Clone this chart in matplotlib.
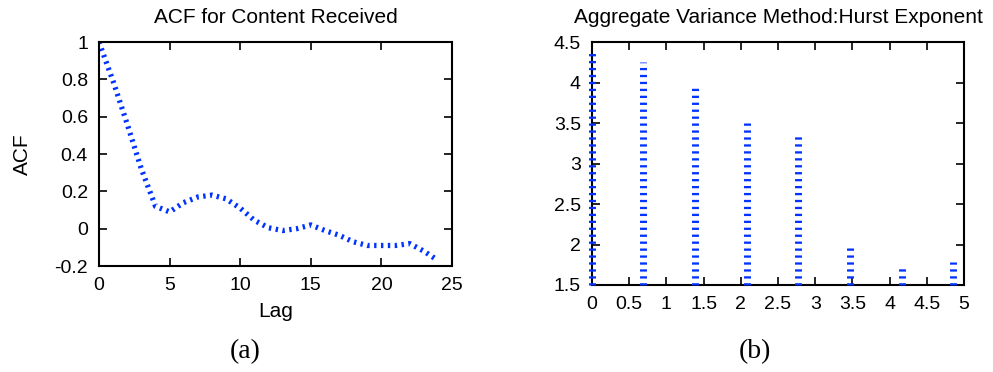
import numpy as np
import matplotlib.pyplot as plt

plt.rcParams['font.family'] = ['Liberation Sans', 'DejaVu Sans']

# ACF values
lags = list(range(25))
acf_vals = [1.0, 0.79, 0.56, 0.32, 0.12, 0.09, 0.14, 0.17, 0.18, 0.16, 0.11,
            0.045, 0.005, -0.01, 0.0, 0.02, -0.01, -0.035, -0.07, -0.09, -0.09,
            -0.09, -0.08, -0.12, -0.17]

# Aggregate variance impulses (x = log m)
agg_x = [0.0, 0.69, 1.39, 2.08, 2.77, 3.47, 4.16, 4.85]
agg_y = [4.42, 4.26, 3.93, 3.50, 3.35, 2.00, 1.71, 1.78]

blue = '#0033ff'

fig = plt.figure(figsize=(9.93, 3.72), dpi=100)

# Left panel
ax1 = fig.add_axes([0.0997, 0.2849, 0.3555, 0.602])
ax1.plot(lags, acf_vals, color=blue, linewidth=3.8, linestyle=(0, (0.45, 0.85)))
ax1.set_xlim(0, 25)
ax1.set_ylim(-0.2, 1.0)
ax1.set_xticks([0, 5, 10, 15, 20, 25])
ax1.set_yticks([-0.2, 0, 0.2, 0.4, 0.6, 0.8, 1])
ax1.set_yticklabels(['-0.2', '0', '0.2', '0.4', '0.6', '0.8', '1'])
ax1.set_xlabel('Lag', fontsize=15, labelpad=6)
ax1.set_ylabel('ACF', fontsize=15, labelpad=16)
ax1.set_title('ACF for Content Received', fontsize=15, pad=14)

# Right panel
ax2 = fig.add_axes([0.5962, 0.2339, 0.3746, 0.653])
ax2.vlines(agg_x, 1.5, agg_y, color=blue, linewidth=5, linestyles=[(0, (0.33, 0.67))],
           clip_on=False, zorder=3)
ax2.set_xlim(0, 5)
ax2.set_ylim(1.5, 4.5)
ax2.set_xticks(np.arange(0, 5.01, 0.5))
ax2.set_xticklabels(['0', '0.5', '1', '1.5', '2', '2.5', '3', '3.5', '4', '4.5', '5'])
ax2.set_yticks(np.arange(1.5, 4.51, 0.5))
ax2.set_yticklabels(['1.5', '2', '2.5', '3', '3.5', '4', '4.5'])
ax2.set_title('Aggregate Variance Method:Hurst Exponent', fontsize=15, pad=14)

for ax in (ax1, ax2):
    ax.tick_params(direction='in', length=6, width=1.2, top=True, right=True,
                   labelsize=14, pad=8, colors='black')
    for s in ax.spines.values():
        s.set_linewidth(1.5)

fig.text(0.247, 0.054, '(a)', fontsize=20, ha='center', va='center', family='Liberation Serif')
fig.text(0.760, 0.054, '(b)', fontsize=20, ha='center', va='center', family='Liberation Serif')

fig.savefig('out.png', dpi=100)
